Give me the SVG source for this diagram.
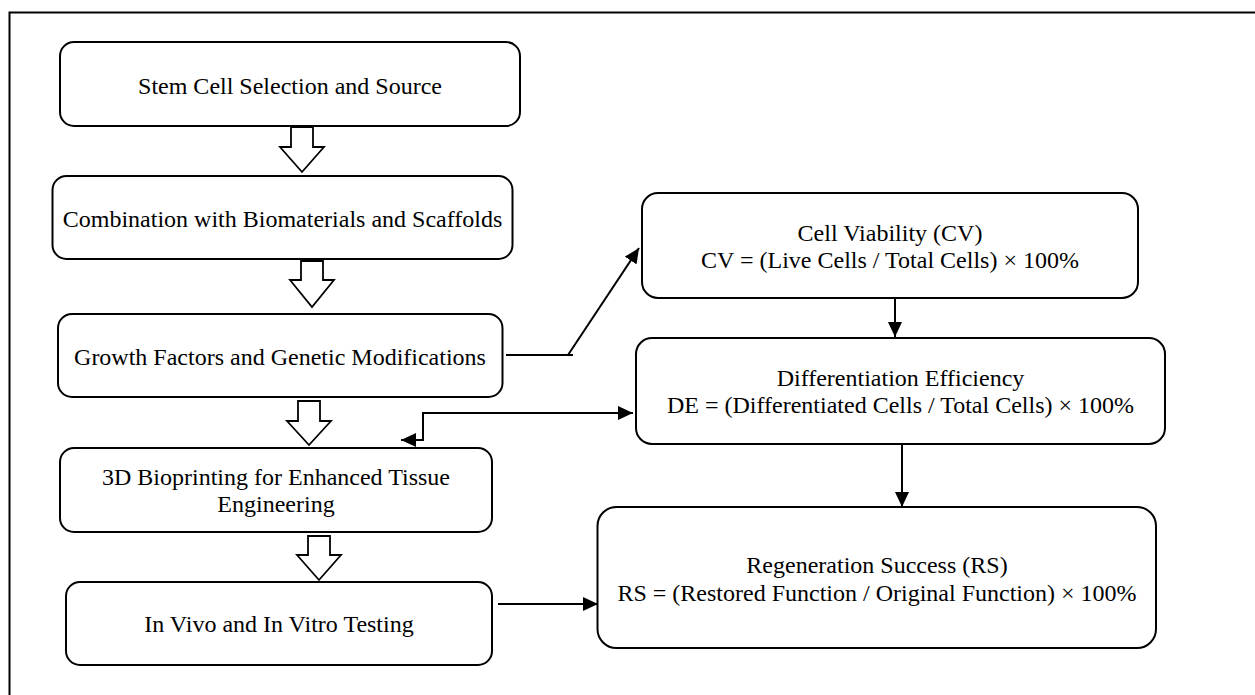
<svg xmlns="http://www.w3.org/2000/svg" width="1255" height="695" viewBox="0 0 1255 695">
  <style>
    .box { fill: #ffffff; stroke: #000000; stroke-width: 2; }
    .label { font-family: "Liberation Serif", "Times New Roman", serif; font-size: 24px; fill: #000000; text-anchor: middle; }
    .conn { fill: none; stroke: #000000; stroke-width: 2; }
    .block { fill: #ffffff; stroke: #000000; stroke-width: 1.8; stroke-linejoin: miter; }
    .frame { fill: none; stroke: #000000; stroke-width: 2; }
  </style>
  <defs>
    <marker id="head" viewBox="0 0 15 14" refX="15" refY="7" markerWidth="15" markerHeight="14" markerUnits="userSpaceOnUse" orient="auto-start-reverse">
      <path d="M0,0 L15,7 L0,14 z" fill="#000000"/>
    </marker>
  </defs>

  <rect width="1255" height="695" fill="#ffffff"/>
  <!-- outer frame (open on right and bottom) -->
  <path class="frame" d="M9.5 700 V12.5 H1260"/>

  <!-- left column: process steps -->
  <g id="stem-cell-selection">
    <rect class="box" x="60" y="42" width="460" height="84" rx="14"/>
    <text class="label" x="290" y="94">Stem Cell Selection and Source</text>
  </g>
  <g id="biomaterials">
    <rect class="box" x="52.5" y="176" width="460" height="83" rx="14"/>
    <text class="label" x="282.5" y="227">Combination with Biomaterials and Scaffolds</text>
  </g>
  <g id="growth-factors">
    <rect class="box" x="58" y="314" width="444.5" height="83" rx="14"/>
    <text class="label" x="280" y="365">Growth Factors and Genetic Modifications</text>
  </g>
  <g id="bioprinting">
    <rect class="box" x="60" y="448" width="432" height="84" rx="14"/>
    <text class="label" x="276" y="485">3D Bioprinting for Enhanced Tissue</text>
    <text class="label" x="276" y="512">Engineering</text>
  </g>
  <g id="testing">
    <rect class="box" x="66" y="582" width="426" height="83" rx="14"/>
    <text class="label" x="279" y="632">In Vivo and In Vitro Testing</text>
  </g>

  <!-- right column: metrics -->
  <g id="cell-viability">
    <rect class="box" x="642" y="193" width="496" height="105" rx="16"/>
    <text class="label" x="890" y="241">Cell Viability (CV)</text>
    <text class="label" x="890" y="268">CV = (Live Cells / Total Cells) × 100%</text>
  </g>
  <g id="differentiation-efficiency">
    <rect class="box" x="636" y="338" width="529" height="106" rx="16"/>
    <text class="label" x="900.5" y="386">Differentiation Efficiency</text>
    <text class="label" x="900.5" y="413">DE = (Differentiated Cells / Total Cells) × 100%</text>
  </g>
  <g id="regeneration-success">
    <rect class="box" x="597.5" y="507" width="558.5" height="141" rx="19"/>
    <text class="label" x="877" y="573">Regeneration Success (RS)</text>
    <text class="label" x="877" y="601">RS = (Restored Function / Original Function) × 100%</text>
  </g>

  <g id="connectors">
    <!-- hollow block arrows between steps -->
    <polygon class="block" points="291,127 313,127 313,147 324,147 302,172 280,147 291,147"/>
    <polygon class="block" points="301,261 323,261 323,280 334,280 312,307 290,280 301,280"/>
    <polygon class="block" points="298,401 320,401 320,421 331,421 309,445 287,421 298,421"/>
    <polygon class="block" points="308,536 330,536 330,555 341,555 319,580 297,555 308,555"/>

    <!-- growth factors to cell viability -->
    <path class="conn" d="M506 355 H573"/>
    <path class="conn" d="M568 355 L639 248" marker-end="url(#head)"/>
    <!-- cell viability to differentiation efficiency -->
    <path class="conn" d="M895 298 V337" marker-end="url(#head)"/>
    <!-- differentiation efficiency to regeneration success -->
    <path class="conn" d="M902 444 V507" marker-end="url(#head)"/>
    <!-- testing to regeneration success -->
    <path class="conn" d="M498 604 H598" marker-end="url(#head)"/>
    <!-- bioprinting <-> differentiation efficiency -->
    <path class="conn" d="M401 440 H423 V413 H633" marker-start="url(#head)" marker-end="url(#head)"/>
  </g>
</svg>
